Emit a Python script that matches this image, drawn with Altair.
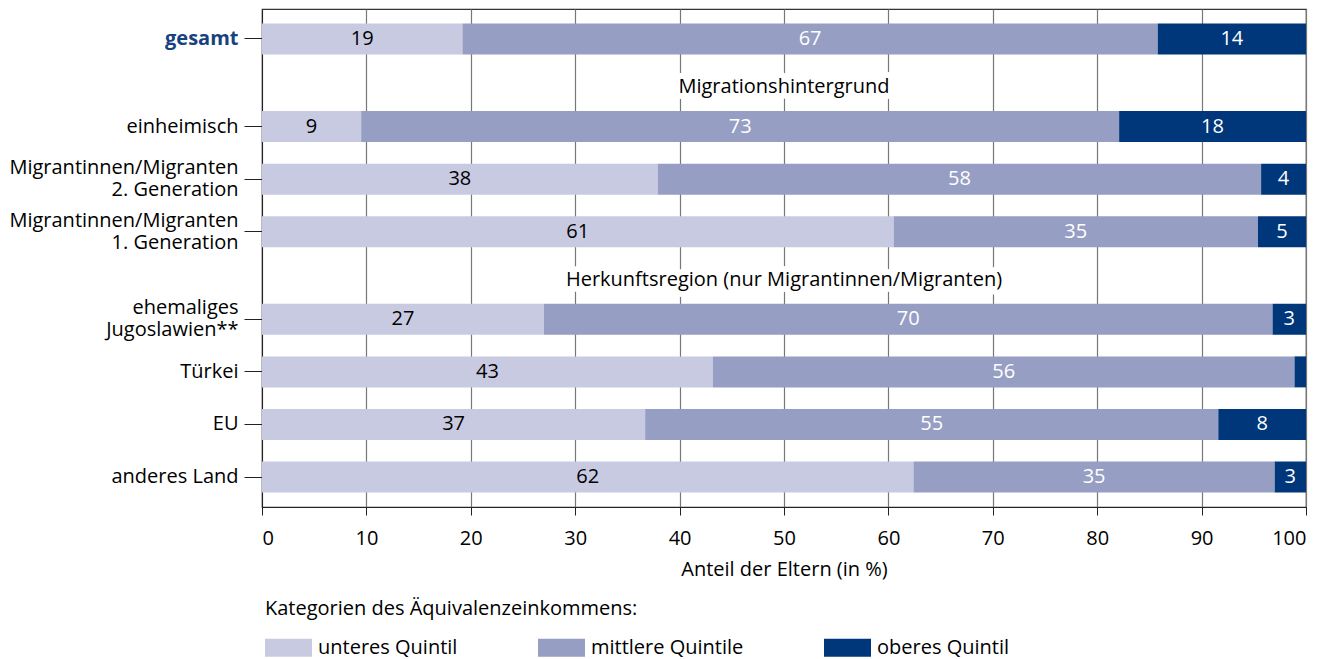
import altair as alt
import pandas as pd

# ---------------- data ----------------
rows = [
    "gesamt",
    "einheimisch",
    "Migrantinnen/Migranten\n2. Generation",
    "Migrantinnen/Migranten\n1. Generation",
    "ehemaliges\nJugoslawien**",
    "Türkei",
    "EU",
    "anderes Land",
]
unteres = [19.2, 9.5, 37.9, 60.5, 27.0, 43.2, 36.7, 62.4]
mittlere = [66.6, 72.6, 57.8, 34.9, 69.8, 55.7, 54.9, 34.6]
oberes = [14.2, 17.9, 4.3, 4.6, 3.2, 1.1, 8.4, 3.0]
lab_unteres = ["19", "9", "38", "61", "27", "43", "37", "62"]
lab_mittlere = ["67", "73", "58", "35", "70", "56", "55", "35"]
lab_oberes = ["14", "18", "4", "5", "3", "", "8", "3"]
categories = ["unteres Quintil", "mittlere Quintile", "oberes Quintil"]
colors = ["#c8cae1", "#969ec3", "#00367a"]
headings = ["Migrationshintergrund", "Herkunftsregion (nur Migrantinnen/Migranten)"]
heading_rows = ["_h1", "_h2"]
x_ticks = list(range(0, 101, 10))

# ---------------- layout helpers ----------------
PLOT_W, PLOT_H = 1044, 498
FONT = "Open Sans"
FS = 20

# band domain with spacer slots (visual spacing only)
domain = ["_t", rows[0], "_1", "_2", "_h1", "_3", rows[1], "_4", "_5", rows[2], "_6", "_7",
          rows[3], "_8", "_9", "_h2", "_10", rows[4], "_11", "_12", rows[5], "_13", "_14",
          rows[6], "_15", "_16", rows[7], "_b"]

recs = []
for i, r in enumerate(rows):
    for k, (vals, labs) in enumerate([(unteres, lab_unteres), (mittlere, lab_mittlere), (oberes, lab_oberes)]):
        recs.append({"row": r, "cat": categories[k], "order": k, "value": vals[i], "label": labs[i]})
df = pd.DataFrame(recs)
hdf = pd.DataFrame({"row": heading_rows, "text": headings})

yscale = alt.Scale(domain=domain, paddingInner=0, paddingOuter=0.212)

yaxis = alt.Axis(
    values=rows, title=None, labelFontSize=FS, labelFont=FONT, labelLimit=400,
    labelExpr="split(datum.label, '\\n')", labelLineHeight=22,
    labelOffset={"condition": {"test": "indexof(datum.value, '\\n') >= 0", "value": -11}, "value": 0},
    labelColor={"condition": {"test": "datum.value === 'gesamt'", "value": "#17427f"}, "value": "black"},
    labelFontWeight={"condition": {"test": "datum.value === 'gesamt'", "value": "bold"}, "value": "normal"},
    tickSize=18, tickColor="#222", domainColor="#222", labelPadding=6, grid=False,
)
xaxis = alt.Axis(
    values=x_ticks, title="Anteil der Eltern (in %)", titleFontSize=FS, titleFont=FONT,
    titleFontWeight="normal", titleColor="black", titlePadding=11,
    labelFontSize=FS, labelFont=FONT, labelColor="black", labelPadding=13,
    tickSize=8, tickColor="#222", domainColor="#222",
    grid=True, gridColor="#777", gridWidth=1.2,
)

base = alt.Chart(df).transform_stack(
    stack="value", groupby=["row"], as_=["x0", "x1"], sort=[alt.SortField("order")]
).transform_calculate(mid="(datum.x0 + datum.x1) / 2")

bars = base.mark_bar(height=31).encode(
    y=alt.Y("row:N", scale=yscale, axis=yaxis),
    x=alt.X("x0:Q", scale=alt.Scale(domain=[0, 100], nice=False), axis=xaxis),
    x2="x1:Q",
    color=alt.Color(
        "cat:N",
        scale=alt.Scale(domain=categories, range=colors),
        legend=alt.Legend(
            title="Kategorien des Äquivalenzeinkommens:", orient="none", legendX=3, legendY=590,
            direction="horizontal", titleFontSize=FS, titleFont=FONT, titleFontWeight="normal",
            titleColor="black", titlePadding=5, titleLimit=800, labelFontSize=FS, labelFont=FONT,
            labelColor="black", labelLimit=400, symbolType="M-1,-0.383L1,-0.383L1,0.383L-1,0.383Z",
            symbolSize=2209, symbolStrokeWidth=0, symbolOpacity=1, labelOffset=6,
            columnPadding=80,
        ),
    ),
)

labels = base.mark_text(fontSize=FS, font=FONT, baseline="middle", align="center").encode(
    y=alt.Y("row:N", scale=yscale),
    x="mid:Q",
    text="label:N",
    color=alt.condition("datum.cat === 'unteres Quintil'", alt.value("black"), alt.value("white")),
)

halo = alt.Chart(hdf).mark_text(
    fontSize=FS, font=FONT, baseline="middle", align="center", dy=-4.5,
    stroke="white", strokeWidth=12, strokeJoin="round", fill="white",
).encode(y=alt.Y("row:N", scale=yscale), x=alt.value(PLOT_W / 2), text="text:N")

heads = alt.Chart(hdf).mark_text(
    fontSize=FS, font=FONT, baseline="middle", align="center", dy=-4.5, color="black",
).encode(y=alt.Y("row:N", scale=yscale), x=alt.value(PLOT_W / 2), text="text:N")

chart = alt.layer(bars, labels, halo, heads).properties(
    width=PLOT_W, height=PLOT_H,
    autosize=alt.AutoSizeParams(type="none"),
    padding={"left": 254, "top": 1, "right": 19, "bottom": 152},
).configure(font=FONT).configure_view(stroke="#333", strokeWidth=1.2)

chart.save("out.html", embed_options={"renderer": "svg", "actions": False})
